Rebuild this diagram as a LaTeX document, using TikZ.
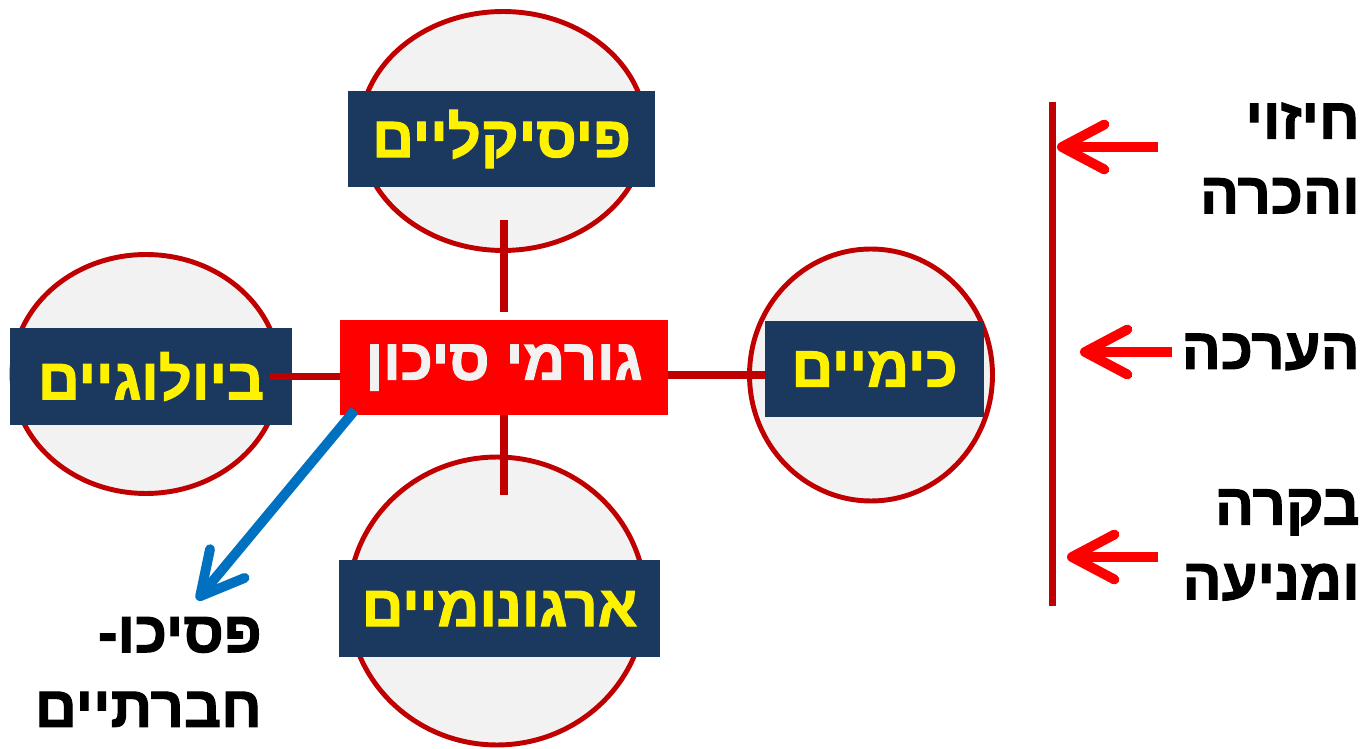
\documentclass[tikz,border=0pt]{standalone}
\usepackage{fontspec}
\setmainfont{Liberation Sans}
\newfontfamily\hebfont[Script=Hebrew, BoldFeatures={FakeBold=1.8}]{Liberation Sans}
\TeXXeTstate=1
\usetikzlibrary{arrows.meta, shapes.geometric, positioning, calc}
\definecolor{RiskRed}{RGB}{255,0,0}
\definecolor{DarkRed}{RGB}{192,0,0}
\definecolor{NavyBox}{RGB}{27,56,94}
\definecolor{PaleGray}{RGB}{242,242,242}
\definecolor{ArrowBlue}{RGB}{0,112,192}
\newcommand{\heb}[1]{\beginR #1\endR}
\tikzset{
	factor/.style={ellipse, draw=DarkRed, line width=2.8pt, fill=PaleGray, inner sep=0pt},
	tag/.style={fill=NavyBox, text=yellow, inner sep=0pt,
		font=\hebfont\bfseries\fontsize{33}{38}\selectfont},
	link/.style={draw=DarkRed, line width=4pt},
	stage/.style={anchor=east, align=right, inner sep=0pt,
		font=\hebfont\bfseries\fontsize{33}{42.5}\selectfont},
	barb/.style={line width=5.6pt, -{Straight Barb[length=0.85cm, width=0.9cm, line cap=round, line join=round]}}
}

\begin{document}
\begin{tikzpicture}[x=0.02cm, y=-0.02cm]
	\useasboundingbox (0,0) rectangle (1368,749);
	% ellipses
	\node[factor, minimum width=5.72cm, minimum height=4.78cm] (physEll) at (503,131) {};
	\node[factor, minimum width=5.36cm, minimum height=4.78cm] (bioEll) at (146,374) {};
	\node[factor, minimum width=4.86cm, minimum height=5.04cm] (chemEll) at (871,375) {};
	\node[factor, minimum width=5.94cm, minimum height=5.76cm] (ergoEll) at (497,601) {};
	% label boxes
	\node[tag, minimum width=6.14cm, minimum height=1.92cm] (physBox) at (501.5,139) {\heb{פיסיקליים}};
	\node[tag, minimum width=5.64cm, minimum height=1.94cm] (bioBox) at (151,376.5) {\heb{ביולוגיים}};
	\node[tag, minimum width=4.38cm, minimum height=1.92cm] (chemBox) at (874.5,369) {\heb{כימיים}};
	\node[tag, minimum width=6.42cm, minimum height=1.94cm] (ergoBox) at (499.5,608.5) {\heb{ארגונומיים}};
	\node[tag, fill=RiskRed, text=PaleGray, minimum width=6.56cm, minimum height=1.9cm] (risk) at (504,367.5) {\heb{גורמי סיכון}};
	% connectors
	\draw[link, shorten <=0.66cm, shorten >=0.16cm] (physBox.south -| risk) -- (risk);
	\draw[link, shorten <=-0.44cm] (bioBox.east) -- (bioBox.east -| risk.west);
	\draw[link] (risk.east |- chemEll) -- (chemBox.west |- chemEll);
	\draw[link, shorten >=1.3cm] (risk.south) -- (risk.south |- ergoBox.north);
	% psycho-social
	\coordinate (psyTip) at (197,600);
	\draw[barb, ArrowBlue] ($(risk.south west)+(15,-5)$) -- (psyTip);
	\node[stage] (psy) at (262,672) {\heb{פסיכו-}\\\heb{חברתיים}};
	% stages on the right
	\coordinate (axisTop) at (1052,102);
	\coordinate (axisBot) at (1052,606);
	\draw[DarkRed, line width=4pt] (axisTop) -- (axisBot);
	\node[stage] (detect) at (1360,158) {\heb{חיזוי}\\\heb{והכרה}};
	\node[stage] (assess) at (1360,352) {\heb{הערכה}};
	\node[stage] (control) at (1360,545) {\heb{בקרה}\\\heb{ומניעה}};
	\coordinate (detTail) at (1158,147);
	\coordinate (detTip) at (1057,147);
	\coordinate (assTail) at (1172,352);
	\coordinate (assTip) at (1080,352);
	\coordinate (conTail) at (1158,557);
	\coordinate (conTip) at (1067,557);
	\foreach \a/\b in {detTail/detTip, assTail/assTip, conTail/conTip}
		\draw[barb, RiskRed] (\a) -- (\b);
\end{tikzpicture}
\end{document}
